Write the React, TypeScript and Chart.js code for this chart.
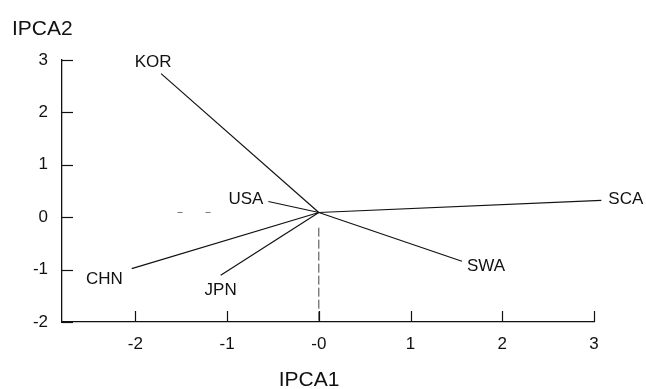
import React, { useEffect, useRef } from "react";
import { Chart, registerables } from "chart.js";

Chart.register(...registerables);

// ---- data ----
const regions = ["KOR", "USA", "SCA", "SWA", "CHN", "JPN"];
const ipca1 = [-1.72, -0.55, 3.08, 1.56, -2.04, -1.07];
const ipca2 = [2.74, 0.3, 0.32, -0.84, -0.98, -1.11];
const originX = 0;
const originY = 0.09;
const xTicks = [-2, -1, 0, 1, 2, 3];
const yTicks = [-2, -1, 0, 1, 2, 3];
const xTickLabels = ["-2", "-1", "-0", "1", "2", "3"];
const yTickLabels = ["-2", "-1", "0", "1", "2", "3"];
const xTitle = "IPCA1";
const yTitle = "IPCA2";
const vDashY = [-0.2, -2];
const hDashX = [-1.54, -1.18];

const FONT = "'Liberation Sans', Arial, Helvetica, sans-serif";

// label placement (style only)
const labelPlace: Record<string, { align: CanvasTextAlign; dx: number; dy: number }> = {
  KOR: { align: "center", dx: -8, dy: -7 },
  USA: { align: "right", dx: -5, dy: 3 },
  SCA: { align: "left", dx: 7, dy: 4 },
  SWA: { align: "left", dx: 5, dy: 10 },
  CHN: { align: "right", dx: -9, dy: 15 },
  JPN: { align: "center", dx: 0, dy: 20 },
};

export default function App() {
  const ref = useRef<HTMLCanvasElement | null>(null);

  useEffect(() => {
    const canvas = ref.current;
    if (!canvas) return;

    const vectorSets = regions.map((r, i) => ({
      label: r,
      data: [
        { x: originX, y: originY },
        { x: ipca1[i], y: ipca2[i] },
      ],
      showLine: true,
      borderColor: "#111",
      borderWidth: 1.2,
      pointRadius: 0,
      clip: false as any,
    }));

    const extraSets = [
      {
        label: "vdash",
        data: [
          { x: originX, y: vDashY[0] },
          { x: originX, y: vDashY[1] },
        ],
        showLine: true,
        borderColor: "#444",
        borderWidth: 1,
        borderDash: [9, 3],
        pointRadius: 0,
      },
      {
        label: "hdash",
        data: [
          { x: hDashX[0], y: originY },
          { x: hDashX[1], y: originY },
        ],
        showLine: true,
        borderColor: "#777",
        borderWidth: 1,
        borderDash: [5, 23],
        pointRadius: 0,
      },
    ];

    const overlay = {
      id: "overlay",
      afterDraw(chart: any) {
        const ctx = chart.ctx as CanvasRenderingContext2D;
        const xs = chart.scales.x;
        const ys = chart.scales.y;
        const area = chart.chartArea;
        ctx.save();
        // inward ticks
        ctx.strokeStyle = "#111";
        ctx.lineWidth = 1.2;
        xTicks.forEach((v) => {
          const px = Math.round(xs.getPixelForValue(v)) + 0.5;
          ctx.beginPath();
          ctx.moveTo(px, area.bottom);
          ctx.lineTo(px, area.bottom - 11);
          ctx.stroke();
        });
        yTicks.forEach((v) => {
          const py = Math.round(ys.getPixelForValue(v)) + 0.5;
          ctx.beginPath();
          ctx.moveTo(area.left, py);
          ctx.lineTo(area.left + 11, py);
          ctx.stroke();
        });
        // point labels
        ctx.fillStyle = "#111";
        ctx.font = `17px ${FONT}`;
        ctx.textBaseline = "alphabetic";
        regions.forEach((r, i) => {
          const meta = chart.getDatasetMeta(i);
          const pt = meta.data[1];
          const p = labelPlace[r];
          ctx.textAlign = p.align;
          ctx.fillText(r, pt.x + p.dx, pt.y + p.dy);
        });
        // axis titles
        ctx.font = `21px ${FONT}`;
        ctx.textAlign = "left";
        ctx.fillText(yTitle, 12, 35);
        ctx.textAlign = "center";
        ctx.fillText(xTitle, 309, 386);
        ctx.restore();
      },
    };

    const chart = new Chart(canvas, {
      type: "scatter",
      data: { datasets: [...vectorSets, ...extraSets] as any },
      options: {
        responsive: false,
        animation: false,
        layout: { padding: { top: 60, right: 52, left: 0, bottom: 0 } },
        plugins: { legend: { display: false }, tooltip: { enabled: false } },
        scales: {
          x: {
            type: "linear",
            min: -2.8,
            max: 3,
            afterFit: (s: any) => {
              s.height = 67;
            },
            afterBuildTicks: (s: any) => {
              s.ticks = xTicks.map((v) => ({ value: v }));
            },
            grid: { drawOnChartArea: false, drawTicks: false },
            border: { display: true, color: "#111", width: 1.3 },
            ticks: {
              color: "#111",
              font: { family: FONT, size: 17 },
              padding: 12,
              maxRotation: 0,
              autoSkip: false,
              callback: (v: any) => {
                const i = xTicks.indexOf(Number(v));
                return i >= 0 ? xTickLabels[i] : "";
              },
            },
          },
          y: {
            type: "linear",
            min: -2,
            max: 3,
            afterFit: (s: any) => {
              s.width = 62;
            },
            afterBuildTicks: (s: any) => {
              s.ticks = yTicks.map((v) => ({ value: v }));
            },
            grid: { drawOnChartArea: false, drawTicks: false },
            border: { display: true, color: "#111", width: 1.3 },
            ticks: {
              color: "#111",
              font: { family: FONT, size: 17 },
              padding: 14,
              autoSkip: false,
              callback: (v: any) => {
                const i = yTicks.indexOf(Number(v));
                return i >= 0 ? yTickLabels[i] : "";
              },
            },
          },
        },
      },
      plugins: [overlay],
    });

    return () => chart.destroy();
  }, []);

  return (
    <div style={{ position: "absolute", left: 0, top: 0, width: 646, height: 389, background: "#fff" }}>
      <canvas ref={ref} width={646} height={389} style={{ width: 646, height: 389 }} />
    </div>
  );
}
